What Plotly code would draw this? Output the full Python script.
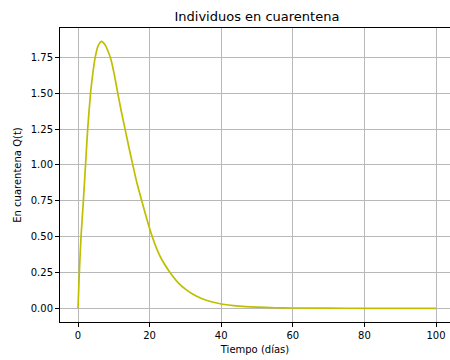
import plotly.graph_objects as go

# Data
t_days = [0, 0.37, 0.84, 1.5, 2.1, 2.7, 3.5, 4.2, 4.8, 5.6, 6.6, 7.5, 8.2, 9.2, 10.1, 11.0,
          12.0, 13.1, 14.2, 15.3, 16.5, 17.8, 19.2, 20.6, 22.0, 23.5, 25.7, 28.0, 30.0,
          33.0, 36.0, 40.0, 45.0, 50.0, 55.0, 60.0, 70.0, 80.0, 90.0, 100.0]
q_values = [0.0, 0.25, 0.5, 0.75, 1.0, 1.25, 1.5, 1.65, 1.75, 1.83, 1.862, 1.84, 1.805, 1.735, 1.635,
            1.515, 1.385, 1.255, 1.125, 1.0, 0.87, 0.75, 0.625, 0.51, 0.415, 0.335, 0.25, 0.178,
            0.134, 0.085, 0.054, 0.03, 0.015, 0.008, 0.004, 0.002, 0.0006, 0.0002, 0.0001, 0.0]

x_ticks = [0, 20, 40, 60, 80, 100]
y_ticks = [0.0, 0.25, 0.5, 0.75, 1.0, 1.25, 1.5, 1.75]
y_tick_text = ["0.00", "0.25", "0.50", "0.75", "1.00", "1.25", "1.50", "1.75"]

FONT = "DejaVu Sans"

fig = go.Figure()
fig.add_trace(go.Scatter(x=t_days, y=q_values, mode="lines",
                         line=dict(color="#bfbf00", width=1.7, shape="spline", smoothing=0.6),
                         showlegend=False))

fig.update_layout(
    width=450, height=360,
    margin=dict(l=60, r=0, t=28, b=38),
    paper_bgcolor="white", plot_bgcolor="white",
    font=dict(family=FONT, size=10, color="black"),
    title=dict(text="Individuos en cuarentena", font=dict(family=FONT, size=13, color="black"),
               x=0.505, xref="paper", xanchor="center",
               y=1 - 16 / 360, yref="container", yanchor="middle"),
)
fig.update_xaxes(
    range=[-5.03, 103.9], tickvals=x_ticks, ticks="outside", ticklen=4, tickcolor="black",
    showline=True, linecolor="black", linewidth=1, mirror=True,
    showgrid=True, gridcolor="#b8b8b8", gridwidth=0.9, zeroline=False,
    title=dict(text="Tiempo (días)", font=dict(family=FONT, size=10), standoff=5),
    automargin=False,
)
fig.update_yaxes(
    range=[-0.0955, 1.955], tickvals=y_ticks, ticktext=y_tick_text, ticks="outside", ticklen=4,
    tickcolor="black", showline=True, linecolor="black", linewidth=1, mirror=False,
    showgrid=True, gridcolor="#b8b8b8", gridwidth=0.9, zeroline=False,
    title=dict(text="En cuarentena Q(t)", font=dict(family=FONT, size=10), standoff=7),
    automargin=False,
)

fig.write_html("out.html")
